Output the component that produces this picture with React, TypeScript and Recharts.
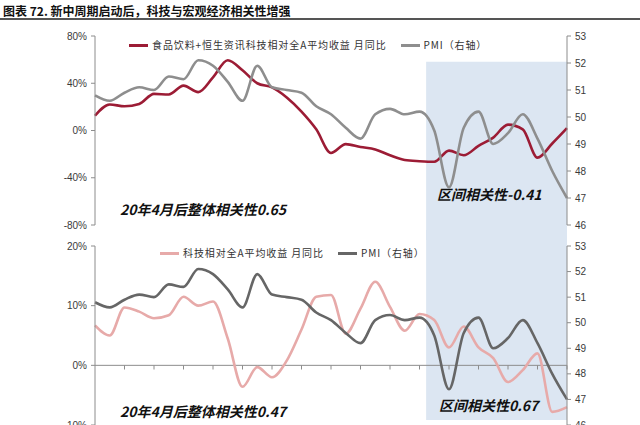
import React from 'react';
import { LineChart, Line, XAxis, YAxis, ReferenceArea, ReferenceLine } from 'recharts';

// 月度数据：2020年4月 - 2022年12月
const months = [
    '2020-04', '2020-05', '2020-06', '2020-07', '2020-08', '2020-09', '2020-10', '2020-11', '2020-12',
    '2021-01', '2021-02', '2021-03', '2021-04', '2021-05', '2021-06', '2021-07', '2021-08', '2021-09',
    '2021-10', '2021-11', '2021-12', '2022-01', '2022-02', '2022-03', '2022-04', '2022-05', '2022-06',
    '2022-07', '2022-08', '2022-09', '2022-10', '2022-11', '2022-12',
];

// 制造业PMI（右轴）
const pmi = [
    50.8, 50.6, 50.9, 51.1, 51.0, 51.5, 51.4, 52.1, 51.9,
    51.3, 50.6, 51.9, 51.1, 51.0, 50.9, 50.4, 50.1, 49.6,
    49.2, 50.1, 50.3, 50.1, 50.2, 49.5, 47.4, 49.6, 50.2,
    49.0, 49.4, 50.1, 49.2, 48.0, 47.0,
];

// 食品饮料+恒生资讯科技相对全A平均收益 月同比（%）
const foodTechYoy = [
    12.5, 22, 20.5, 22.5, 31, 30.5, 38, 32.5, 45,
    59.5, 51, 40, 36.5, 28, 16, 1, -19, -11.5,
    -14, -16, -21, -25, -26, -26.5, -17, -21, -13,
    -6, 5, 1, -23, -11, 2,
];

// 科技相对全A平均收益 月同比（%）
const techYoy = [
    6.7, 5, 9.7, 9, 7.9, 8.4, 11.5, 10, 10.7,
    4.5, -3.6, -0.3, -2, 0.8, 6, 11.5, 11.8, 5.3,
    9.5, 14, 9.8, 5.8, 8.6, 7.6, 3, 6.5, 3,
    1.2, -2.8, -0.8, 2, -7.8, -7,
];

const topPctTicks = [-80, -40, 0, 40, 80];
const bottomPctTicks = [-10, 0, 10, 20];
const pmiTicks = [46, 47, 48, 49, 50, 51, 52, 53];

// 新周期区间：2022年2月中旬起
const SHADE_FROM = 22.45;

const data = months.map((m, i) => ({
    i,
    month: m,
    pmi: pmi[i],
    foodTech: foodTechYoy[i],
    tech: techYoy[i],
}));

const axisTicks = data.filter((d) => d.i > 0 && d.i % 2 === 0).map((d) => d.i);

const SANS = 'Arial, "Liberation Sans", sans-serif';
const CJK = '"Noto Sans CJK SC", sans-serif';
const AXIS = '#8c8c8c';
const SHADE = '#dce6f2';

const RED = '#9c1c35';
const GRAY = '#8e8e8e';
const PINK = '#e7aaa9';
const DARK = '#666666';

const topSeries = [
    { name: '食品饮料+恒生资讯科技相对全A平均收益 月同比', color: RED },
    { name: 'PMI（右轴）', color: GRAY },
];
const bottomSeries = [
    { name: '科技相对全A平均收益 月同比', color: PINK },
    { name: 'PMI（右轴）', color: DARK },
];

const tickStyle = { fontSize: 10, fill: '#3a3a3a', fontFamily: SANS };

const SeriesLegend = ({ items, left, top }: { items: { name: string; color: string }[]; left: number; top: number }) => (
    <div style={{ position: 'absolute', left, top, display: 'flex', alignItems: 'center', fontFamily: CJK, fontSize: 10, lineHeight: '12px', color: '#333', letterSpacing: 0.9, whiteSpace: 'nowrap' }}>
        {items.map((entry, idx) => (
            <div key={`item-${idx}`} style={{ display: 'flex', alignItems: 'center', marginRight: 14 }}>
                <span style={{ display: 'inline-block', width: 19, height: 3, background: entry.color, marginRight: 4 }} />
                <span>{entry.name}</span>
            </div>
        ))}
    </div>
);

const noteStyle: React.CSSProperties = {
    position: 'absolute',
    fontFamily: CJK,
    fontWeight: 700,
    fontStyle: 'italic',
    fontSize: 14,
    color: '#111',
    whiteSpace: 'nowrap',
    lineHeight: '16px',
};

const lineProps = { type: 'monotone' as const, strokeWidth: 2.6, dot: false, activeDot: false, isAnimationActive: false };

const App: React.FC = () => {
    return (
        <div style={{ position: 'absolute', left: 0, top: 0, width: 640, height: 425, overflow: 'hidden', background: '#fff' }}>
            {/* 标题 */}
            <div style={{ position: 'absolute', left: 3, top: 2, fontFamily: CJK, fontWeight: 700, fontSize: 12, color: '#111', whiteSpace: 'nowrap' }}>
                图表 72. 新中周期启动后，科技与宏观经济相关性增强
            </div>
            <div style={{ position: 'absolute', left: 0, top: 18, width: 640, height: 2, background: '#555' }} />

            {/* 上图 */}
            <div style={{ position: 'absolute', left: 0, top: 0 }}>
                <LineChart width={640} height={240} data={data} margin={{ top: 36, right: 0, bottom: 15, left: 0 }}>
                    <XAxis dataKey="i" type="number" domain={[0, months.length - 1]} hide />
                    <YAxis
                        yAxisId="l"
                        domain={[-80, 80]}
                        ticks={topPctTicks}
                        interval={0}
                        width={95}
                        tickFormatter={(v) => `${v}%`}
                        tick={tickStyle}
                        tickSize={4}
                        tickMargin={4}
                        axisLine={{ stroke: AXIS }}
                        tickLine={{ stroke: AXIS }}
                    />
                    <YAxis
                        yAxisId="r"
                        orientation="right"
                        domain={[46, 53]}
                        ticks={pmiTicks}
                        interval={0}
                        width={73}
                        tick={tickStyle}
                        tickSize={4}
                        tickMargin={4}
                        axisLine={{ stroke: AXIS }}
                        tickLine={{ stroke: AXIS }}
                    />
                    <ReferenceArea yAxisId="r" x1={SHADE_FROM} x2={months.length - 1} y1={45.4} y2={52.05} fill={SHADE} fillOpacity={1} stroke="none" ifOverflow="visible" />
                    <Line yAxisId="l" dataKey="foodTech" name={topSeries[0].name} stroke={RED} {...lineProps} />
                    <Line yAxisId="r" dataKey="pmi" name={topSeries[1].name} stroke={GRAY} {...lineProps} />
                </LineChart>
            </div>

            {/* 下图 */}
            <div style={{ position: 'absolute', left: 0, top: 230 }}>
                <LineChart width={640} height={210} data={data} margin={{ top: 16, right: 0, bottom: 15, left: 0 }}>
                    <XAxis dataKey="i" type="number" domain={[0, months.length - 1]} hide />
                    <YAxis
                        yAxisId="l"
                        domain={[-10, 20]}
                        ticks={bottomPctTicks}
                        interval={0}
                        width={95}
                        tickFormatter={(v) => `${v}%`}
                        tick={tickStyle}
                        tickSize={4}
                        tickMargin={4}
                        axisLine={{ stroke: AXIS }}
                        tickLine={{ stroke: AXIS }}
                    />
                    <YAxis
                        yAxisId="r"
                        orientation="right"
                        domain={[46, 53]}
                        ticks={pmiTicks}
                        interval={0}
                        width={73}
                        tick={tickStyle}
                        tickSize={4}
                        tickMargin={4}
                        axisLine={{ stroke: AXIS }}
                        tickLine={{ stroke: AXIS }}
                    />
                    <ReferenceArea yAxisId="r" x1={SHADE_FROM} x2={months.length - 1} y1={46.2} y2={53.7} fill={SHADE} fillOpacity={1} stroke="none" ifOverflow="visible" />
                    <ReferenceLine yAxisId="l" y={0} stroke={AXIS} strokeWidth={1} />
                    {axisTicks.map((t) => (
                        <ReferenceLine key={`xt-${t}`} yAxisId="l" segment={[{ x: t, y: 0 }, { x: t, y: -0.7 }]} stroke={AXIS} strokeWidth={1} />
                    ))}
                    <Line yAxisId="l" dataKey="tech" name={bottomSeries[0].name} stroke={PINK} {...lineProps} />
                    <Line yAxisId="r" dataKey="pmi" name={bottomSeries[1].name} stroke={DARK} {...lineProps} />
                </LineChart>
            </div>

            {/* 图例 */}
            <SeriesLegend items={topSeries} left={129} top={39} />
            <SeriesLegend items={bottomSeries} left={160} top={247} />

            {/* 相关性标注 */}
            <div style={{ ...noteStyle, left: 120, top: 201 }}>20年4月后整体相关性0.65</div>
            <div style={{ ...noteStyle, left: 437, top: 186 }}>区间相关性-0.41</div>
            <div style={{ ...noteStyle, left: 120, top: 403 }}>20年4月后整体相关性0.47</div>
            <div style={{ ...noteStyle, left: 439, top: 397 }}>区间相关性0.67</div>
        </div>
    );
};

export default App;
